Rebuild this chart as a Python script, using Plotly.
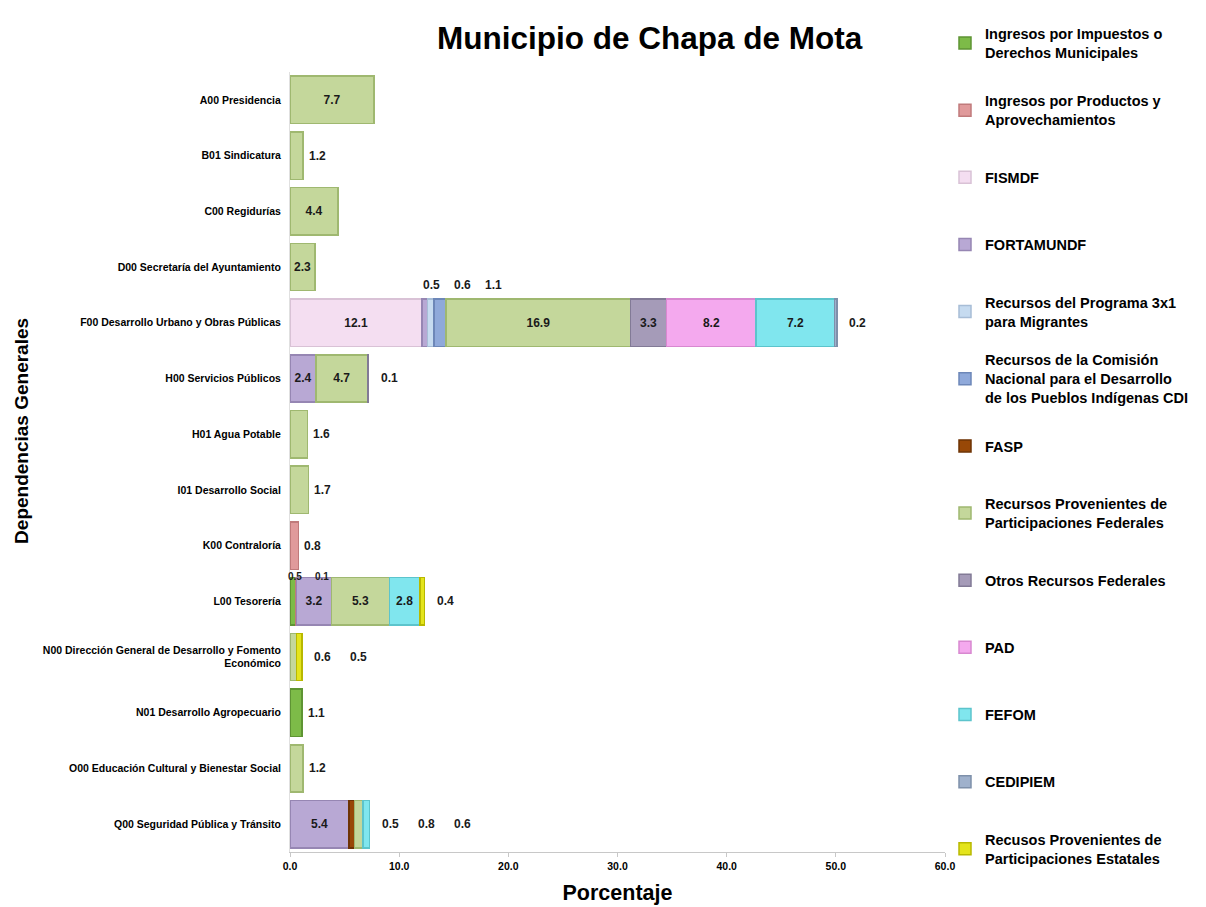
import plotly.graph_objects as go

categories = [
    "A00 Presidencia",
    "B01 Sindicatura",
    "C00 Regidurías",
    "D00 Secretaría del Ayuntamiento",
    "F00 Desarrollo Urbano y Obras Públicas",
    "H00 Servicios Públicos",
    "H01 Agua Potable",
    "I01 Desarrollo Social",
    "K00 Contraloría",
    "L00 Tesorería",
    "N00 Dirección General de Desarrollo y Fomento<br>Económico",
    "N01 Desarrollo Agropecuario",
    "O00 Educación Cultural y Bienestar Social",
    "Q00 Seguridad Pública y Tránsito",
]

series_names = [
    "Ingresos por Impuestos o<br>Derechos Municipales",
    "Ingresos por Productos y<br>Aprovechamientos",
    "FISMDF",
    "FORTAMUNDF",
    "Recursos del Programa 3x1<br>para Migrantes",
    "Recursos de la Comisión<br>Nacional para el Desarrollo<br>de los Pueblos Indígenas CDI",
    "FASP",
    "Recursos Provenientes de<br>Participaciones Federales",
    "Otros Recursos Federales",
    "PAD",
    "FEFOM",
    "CEDIPIEM",
    "Recusos Provenientes de<br>Participaciones Estatales",
]

#                     A00  B01  C00  D00  F00   H00  H01  I01  K00  L00  N00  N01  O00  Q00
impuestos        = [None, None, None, None, None, None, None, None, None, 0.5, None, 1.1, None, None]
productos        = [None, None, None, None, None, None, None, None, 0.8, 0.1, None, None, None, None]
fismdf           = [None, None, None, None, 12.1, None, None, None, None, None, None, None, None, None]
fortamundf       = [None, None, None, None, 0.5, 2.4, None, None, None, 3.2, None, None, None, 5.4]
programa_3x1     = [None, None, None, None, 0.6, None, None, None, None, None, None, None, None, None]
cdi              = [None, None, None, None, 1.1, None, None, None, None, None, None, None, None, None]
fasp             = [None, None, None, None, None, None, None, None, None, None, None, None, None, 0.5]
part_federales   = [7.7, 1.2, 4.4, 2.3, 16.9, 4.7, 1.6, 1.7, None, 5.3, 0.6, None, 1.2, 0.8]
otros_federales  = [None, None, None, None, 3.3, 0.1, None, None, None, None, None, None, None, None]
pad              = [None, None, None, None, 8.2, None, None, None, None, None, None, None, None, None]
fefom            = [None, None, None, None, 7.2, None, None, None, None, 2.8, None, None, None, 0.6]
cedipiem         = [None, None, None, None, 0.2, None, None, None, None, None, None, None, None, None]
part_estatales   = [None, None, None, None, None, None, None, None, None, 0.4, 0.5, None, None, None]

series_values = [impuestos, productos, fismdf, fortamundf, programa_3x1, cdi, fasp,
                 part_federales, otros_federales, pad, fefom, cedipiem, part_estatales]

x_ticks = [0, 10, 20, 30, 40, 50, 60]

# styles
fill_colors = ["#7dbb48", "#e09a9b", "#f4def1", "#b8a8d4", "#c6dbf0", "#8fa9da", "#984807",
               "#c4d79b", "#a59bb8", "#f4a9ee", "#80e6ee", "#9fb1cc", "#e4e41c"]
line_colors = ["#5e9433", "#c07a7b", "#d9c2d6", "#9686b3", "#a7bdd6", "#6d87b8", "#6e3305",
               "#9fb870", "#827a96", "#d888d0", "#5cc4cc", "#7e90aa", "#b8b800"]

FONT = "Arial, Liberation Sans, sans-serif"
INSIDE_MIN = 2.0
TXT = "#1a1a1a"

# legend layout: one legend box per series, evenly spaced down the right side
LEG_TOP, LEG_BOTTOM = 1.037, 0.004
n_series = len(series_names)
legend_ids = ["legend" if i == 0 else "legend%d" % (i + 1) for i in range(n_series)]

fig = go.Figure()
for i, (name, vals, fc, lc) in enumerate(zip(series_names, series_values, fill_colors, line_colors)):
    texts = [("%.1f" % v) if (v is not None and v >= INSIDE_MIN) else "" for v in vals]
    fig.add_trace(go.Bar(
        y=categories, x=vals, orientation="h", name=name,
        legend=legend_ids[i],
        marker=dict(color=fc, line=dict(color=lc, width=1.5)),
        text=texts, textposition="inside", insidetextanchor="middle",
        textangle=0, constraintext="none",
        insidetextfont=dict(family=FONT, size=12, color=TXT, weight="bold"),
        hoverinfo="x+name",
    ))

# outside labels for small segments (computed from data)
annotations = []
for ci, cat in enumerate(categories):
    segs = []
    start = 0.0
    for vals in series_values:
        v = vals[ci]
        if v is None:
            continue
        segs.append((start, v))
        start += v
    end = start
    small_before = []
    small_after = []
    idx_last_large = max([i for i, (s, v) in enumerate(segs) if v >= INSIDE_MIN], default=-1)
    for i, (s, v) in enumerate(segs):
        if v >= INSIDE_MIN:
            continue
        if i < idx_last_large:
            small_before.append((s, v))
        else:
            small_after.append((s, v))
    if small_before:
        s0 = small_before[0][0]
        for k, (s, v) in enumerate(small_before):
            annotations.append(dict(
                x=s0 + (0.9 if s0 > 1 else 0.45) + k * (2.8 if s0 > 1 else 2.45),
                y=cat, yshift=38 if s0 > 1 else 25,
                text="%.1f" % v, showarrow=False, xanchor="center",
                font=dict(family=FONT, size=12 if s0 > 1 else 10, color=TXT, weight="bold")))
    if small_after:
        single = len(segs) == 1
        for k, (s, v) in enumerate(small_after):
            x = end + (1.3 if single else 1.9 + k * 3.3)
            annotations.append(dict(
                x=x, y=cat, text="%.1f" % v, showarrow=False, xanchor="center",
                font=dict(family=FONT, size=12, color=TXT, weight="bold")))

annotations.append(dict(
    text="Dependencias Generales", textangle=-90, showarrow=False,
    xref="paper", yref="paper", x=-0.409, y=0.54, xanchor="center", yanchor="middle",
    font=dict(family=FONT, size=19, color="#000000", weight="bold")))

layout_legends = {}
for i, lid in enumerate(legend_ids):
    yc = LEG_TOP - i * (LEG_TOP - LEG_BOTTOM) / (n_series - 1)
    layout_legends[lid] = dict(
        x=1.0, xanchor="left", y=yc, yanchor="middle",
        font=dict(family=FONT, size=14.5, color="#000000", weight="bold"),
        itemwidth=30, bgcolor="rgba(0,0,0,0)", borderwidth=0,
    )

fig.update_layout(
    barmode="stack",
    bargap=0.15,
    width=1206, height=907,
    plot_bgcolor="#ffffff", paper_bgcolor="#ffffff",
    margin=dict(l=282, r=269, t=64, b=63, autoexpand=False),
    font=dict(family=FONT, color="#000000"),
    title=dict(text="Municipio de Chapa de Mota", x=0.532, xanchor="center",
               y=0.967, yanchor="middle",
               font=dict(family=FONT, size=31.5, color="#000000", weight="bold")),
    xaxis=dict(range=[0, 60], tickvals=x_ticks, ticktext=["%.1f" % t for t in x_ticks],
               showgrid=False, zeroline=False, showline=True, linecolor="#c8c8c8",
               ticks="outside", tickcolor="#c8c8c8", ticklen=4, automargin=False,
               tickfont=dict(family=FONT, size=10.5, color="#000000", weight="bold"),
               title=dict(text="Porcentaje", standoff=14,
                          font=dict(family=FONT, size=21.5, color="#000000", weight="bold"))),
    yaxis=dict(categoryorder="array", categoryarray=categories, autorange="reversed",
               showgrid=False, zeroline=False, showline=True, linecolor="#e0e0e0",
               ticks="", ticklabelstandoff=6, automargin=False,
               tickfont=dict(family=FONT, size=10.5, color="#000000", weight="bold")),
    annotations=annotations,
    showlegend=True,
    **layout_legends,
)

fig.write_html("out.html")
